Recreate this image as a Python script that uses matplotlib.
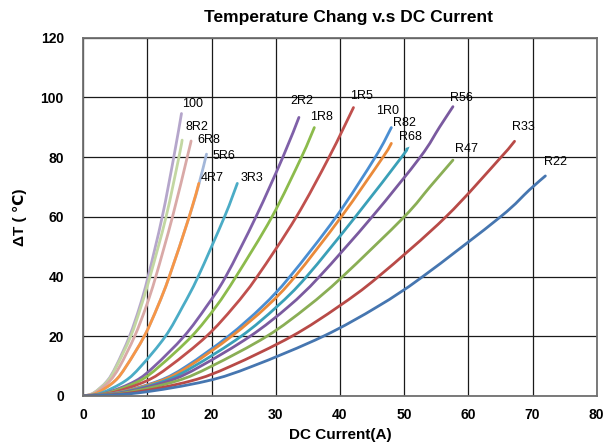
import matplotlib
matplotlib.use("Agg")
import matplotlib.pyplot as plt
from matplotlib.path import Path
from matplotlib.patches import PathPatch

plt.rcParams['font.family'] = ['Liberation Sans', 'DejaVu Sans']

# current (A) / temperature rise (C), one pair of lists per part
names = ["100", "8R2", "6R8", "5R6", "4R7", "3R3", "2R2", "1R8", "1R5",
         "1R0", "R82", "R68", "R56", "R47", "R33", "R22"]

cur_100 = [0, 1.6, 3.7, 5.1, 7.2, 8.8, 10.1, 12.3, 14.1, 15.3]
dt_100 = [0, 1, 5, 10, 20, 30, 40, 60, 80, 94.6]
cur_8R2 = [0, 1.6, 3.8, 5.2, 7.4, 9.0, 10.4, 12.9, 14.9, 15.4]
dt_8R2 = [0, 1, 5, 10, 20, 30, 40, 60, 80, 85.7]
cur_6R8 = [0, 1.8, 4.1, 5.7, 8.0, 9.8, 11.3, 13.9, 16.2, 16.8]
dt_6R8 = [0, 1, 5, 10, 20, 30, 40, 60, 80, 85.4]
cur_5R6 = [0, 2.1, 4.9, 6.7, 9.5, 11.6, 13.4, 16.5, 17.9, 19.2]
dt_5R6 = [0, 1, 5, 10, 20, 30, 40, 60, 70, 81.0]
cur_4R7 = [0, 2.1, 4.9, 6.7, 9.5, 11.6, 13.4, 16.5, 18.0]
dt_4R7 = [0, 1, 5, 10, 20, 30, 40, 60, 71.2]
cur_3R3 = [0, 2.8, 6.5, 9.0, 12.8, 15.5, 17.9, 22.0, 24.0]
dt_3R3 = [0, 1, 5, 10, 20, 30, 40, 60, 71.2]
cur_2R2 = [0, 3.5, 8.1, 11.1, 15.7, 19.2, 22.2, 26.9, 31.1, 33.6]
dt_2R2 = [0, 1, 5, 10, 20, 30, 40, 60, 80, 93.3]
cur_1R8 = [0, 3.8, 8.7, 11.9, 16.9, 20.7, 23.8, 29.4, 34.0, 36.0]
dt_1R8 = [0, 1, 5, 10, 20, 30, 40, 60, 80, 89.9]
cur_1R5 = [0, 4.3, 9.8, 13.5, 19.2, 23.5, 27.1, 33.2, 38.3, 42.1]
dt_1R5 = [0, 1, 5, 10, 20, 30, 40, 60, 80, 96.6]
cur_1R0 = [0, 5.1, 11.7, 16.1, 22.6, 27.9, 32.2, 39.4, 45.5, 48.0]
dt_1R0 = [0, 1, 5, 10, 20, 30, 40, 60, 80, 89.9]
cur_R82 = [0, 5.2, 12.0, 16.5, 23.1, 28.6, 33.0, 40.2, 46.7, 48.0]
dt_R82 = [0, 1, 5, 10, 20, 30, 40, 60, 80, 84.6]
cur_R68 = [0, 5.5, 12.6, 17.3, 24.6, 30.2, 34.8, 42.4, 49.6, 50.4]
dt_R68 = [0, 1, 5, 10, 20, 30, 40, 60, 80, 82.7]
cur_R56 = [0, 5.8, 13.3, 18.3, 26.0, 32.0, 36.8, 45.0, 52.5, 55.5, 57.6]
dt_R56 = [0, 1, 5, 10, 20, 30, 40, 60, 80, 90, 96.9]
cur_R47 = [0, 6.3, 14.5, 20.0, 28.6, 35.0, 40.4, 50.0, 54.0, 57.6]
dt_R47 = [0, 1, 5, 10, 20, 30, 40, 60, 70, 79.0]
cur_R33 = [0, 7.3, 16.7, 23.0, 32.5, 39.8, 46.0, 56.5, 65.1, 67.2]
dt_R33 = [0, 1, 5, 10, 20, 30, 40, 60, 80, 85.3]
cur_R22 = [0, 8.4, 19.2, 26.4, 37.4, 45.9, 52.9, 65.0, 69.5, 72.0]
dt_R22 = [0, 1, 5, 10, 20, 30, 40, 60, 69, 73.7]

currents = [cur_100, cur_8R2, cur_6R8, cur_5R6, cur_4R7, cur_3R3, cur_2R2, cur_1R8,
            cur_1R5, cur_1R0, cur_R82, cur_R68, cur_R56, cur_R47, cur_R33, cur_R22]
temps = [dt_100, dt_8R2, dt_6R8, dt_5R6, dt_4R7, dt_3R3, dt_2R2, dt_1R8,
         dt_1R5, dt_1R0, dt_R82, dt_R68, dt_R56, dt_R47, dt_R33, dt_R22]

colors = ["#b5a6cb", "#c3d7a2", "#d9a9a7", "#a3b7d9", "#f79646", "#4bacc6",
          "#7f60a8", "#8cbb4c", "#c0504d", "#4a8ed2", "#ea8a3a", "#3aa0b8",
          "#7a5a9f", "#8aae55", "#b84a47", "#4676b0"]

# label offsets from curve end (pixels, right / up)
offsets = [(1, 10), (3, 13), (6, 1), (6, -2), (2, 5), (3, 5), (-9, 16), (-4, 11),
           (-3, 12), (-15, 17), (2, 20), (-8, 12), (-3, 9), (2, 11), (-3, 14), (-1, 14)]


def smooth_path(xs, ys):
    # Excel style smoothed line: bezier segments through the read points
    pts = list(zip(xs, ys))
    n = len(pts)
    verts = [pts[0]]
    codes = [Path.MOVETO]
    for i in range(n - 1):
        p0 = pts[i - 1] if i > 0 else pts[i]
        p1 = pts[i]
        p2 = pts[i + 1]
        p3 = pts[i + 2] if i + 2 < n else pts[i + 1]
        c1 = (p1[0] + (p2[0] - p0[0]) / 6, p1[1] + (p2[1] - p0[1]) / 6)
        c2 = (p2[0] - (p3[0] - p1[0]) / 6, p2[1] - (p3[1] - p1[1]) / 6)
        verts += [c1, c2, p2]
        codes += [Path.CURVE4] * 3
    return Path(verts, codes)


fig = plt.figure(figsize=(6.12, 4.48), dpi=100)
ax = fig.add_axes([0.1361, 0.1161, 0.8389, 0.7998])

for i in range(len(names)):
    ax.add_patch(PathPatch(smooth_path(currents[i], temps[i]), fill=False,
                           edgecolor=colors[i], lw=2, capstyle='round', zorder=2))
    ax.annotate(names[i], xy=(currents[i][-1], temps[i][-1]), xytext=offsets[i],
                textcoords='offset pixels', ha='left', va='center', fontsize=9)

ax.set_xlim(0, 80)
ax.set_ylim(0, 120)
ax.set_xticks(range(0, 81, 10))
ax.set_yticks(range(0, 121, 20))
ax.tick_params(length=0, labelsize=10)
ax.tick_params(axis='y', pad=14)
ax.tick_params(axis='x', pad=9)
for lab in ax.get_xticklabels() + ax.get_yticklabels():
    lab.set_fontweight('bold')
ax.grid(color='#1a1a1a', lw=0.9)
ax.set_axisbelow(True)
for s in ax.spines.values():
    s.set_color('#707070')
    s.set_linewidth(1.3)

ax.set_xlabel("DC Current(A)", fontsize=11, fontweight='bold', labelpad=4)
fig.text(0.033, 0.515, "ΔT ( ℃)", rotation=90, ha='center', va='center',
         fontsize=11, fontweight='bold')
fig.text(0.569, 0.962, "Temperature Chang v.s DC Current", ha='center', va='center',
         fontsize=12.5, fontweight='bold')

plt.savefig("out.png", dpi=100)
